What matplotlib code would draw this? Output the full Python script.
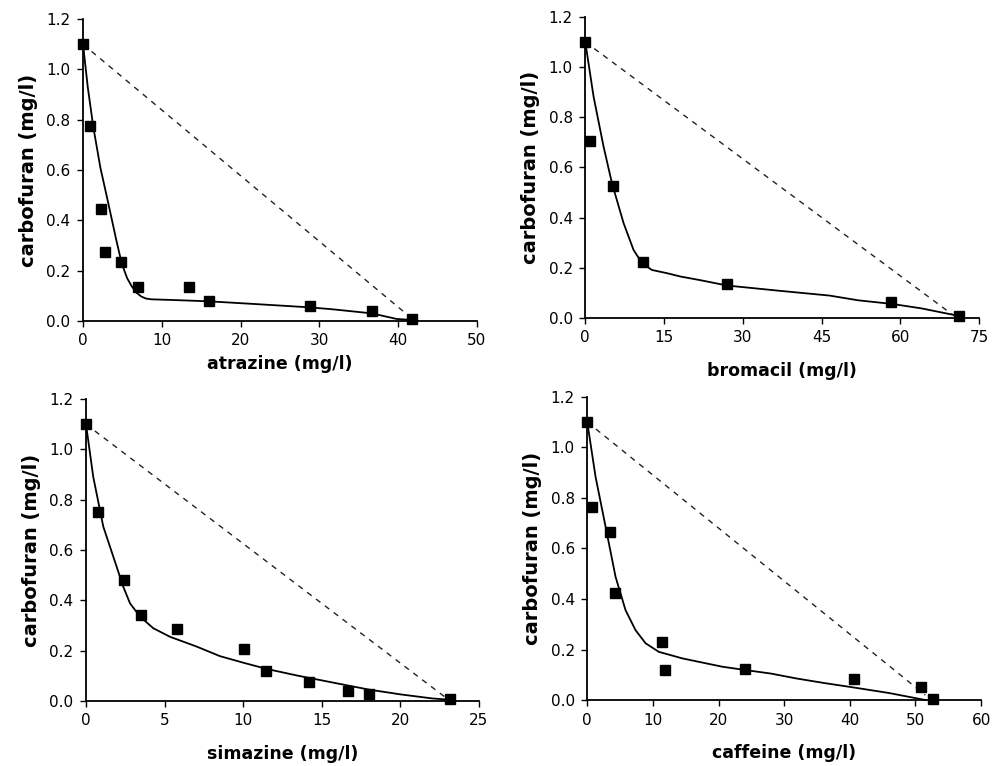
import matplotlib
matplotlib.use("Agg")
import matplotlib.pyplot as plt

# Measured points (x = competing compound, y = carbofuran), all in mg/l
atrazine_x = [0.0, 0.84, 2.28, 2.8, 4.8, 7.0, 13.5, 16.0, 28.8, 36.7, 41.8]
atrazine_y = [1.10, 0.775, 0.445, 0.273, 0.233, 0.136, 0.134, 0.078, 0.060, 0.041, 0.007]
atrazine_fit_x = [0.0, 0.6, 1.3, 2.2, 3.2, 4.2, 4.9, 5.6, 6.2, 6.8, 7.4, 8.0, 8.7,
                  11.7, 16.0, 22.0, 28.8, 31.8, 36.7, 39.8, 41.8]
atrazine_fit_y = [1.10, 0.93, 0.772, 0.61, 0.469, 0.325, 0.230, 0.170, 0.137, 0.112,
                  0.097, 0.089, 0.086, 0.083, 0.078, 0.067, 0.054, 0.046, 0.030, 0.008, 0.004]

bromacil_x = [0.0, 0.89, 5.26, 10.9, 27.0, 58.3, 71.1]
bromacil_y = [1.10, 0.707, 0.526, 0.221, 0.135, 0.062, 0.007]
bromacil_fit_x = [0.0, 1.58, 3.48, 5.08, 7.29, 9.19, 10.8, 12.7, 15.6, 18.1, 22.0,
                  27.0, 37.0, 46.5, 52.0, 58.3, 64.0, 69.9, 71.1]
bromacil_fit_y = [1.10, 0.882, 0.683, 0.537, 0.378, 0.271, 0.218, 0.191, 0.178, 0.165,
                  0.150, 0.129, 0.108, 0.089, 0.070, 0.056, 0.038, 0.013, 0.008]

simazine_x = [0.0, 0.74, 2.42, 3.48, 5.77, 10.07, 11.45, 14.2, 16.7, 18.0, 23.15]
simazine_y = [1.10, 0.753, 0.482, 0.341, 0.284, 0.205, 0.118, 0.075, 0.040, 0.026, 0.007]
simazine_fit_x = [0.0, 0.46, 1.10, 1.74, 2.37, 2.80, 3.44, 4.28, 5.34, 7.04, 8.52,
                  10.0, 11.5, 13.5, 15.7, 18.0, 20.0, 22.0, 23.2]
simazine_fit_y = [1.10, 0.891, 0.693, 0.573, 0.454, 0.388, 0.335, 0.289, 0.255, 0.216,
                  0.178, 0.152, 0.127, 0.100, 0.073, 0.045, 0.026, 0.010, 0.004]

caffeine_x = [0.0, 0.71, 3.4, 4.26, 11.4, 11.9, 24.1, 40.6, 50.9, 52.7]
caffeine_y = [1.10, 0.765, 0.664, 0.423, 0.230, 0.119, 0.122, 0.083, 0.052, 0.003]
caffeine_fit_x = [0.0, 1.26, 2.79, 4.31, 5.83, 7.35, 8.88, 10.9, 14.5, 20.6, 24.1,
                  28.0, 31.8, 36.0, 40.6, 46.0, 51.6]
caffeine_fit_y = [1.10, 0.884, 0.686, 0.488, 0.356, 0.277, 0.225, 0.191, 0.165, 0.132,
                  0.119, 0.105, 0.086, 0.068, 0.050, 0.028, 0.0]

# dashed reference lines (start, end)
atrazine_dash = ([0.0, 41.2], [1.10, 0.024])
bromacil_dash = ([0.0, 70.0], [1.10, 0.012])
simazine_dash = ([0.0, 23.0], [1.10, 0.008])
caffeine_dash = ([0.0, 51.5], [1.10, 0.02])

panels = [
    ("atrazine (mg/l)", atrazine_x, atrazine_y, atrazine_fit_x, atrazine_fit_y,
     atrazine_dash, [0, 10, 20, 30, 40, 50]),
    ("bromacil (mg/l)", bromacil_x, bromacil_y, bromacil_fit_x, bromacil_fit_y,
     bromacil_dash, [0, 15, 30, 45, 60, 75]),
    ("simazine (mg/l)", simazine_x, simazine_y, simazine_fit_x, simazine_fit_y,
     simazine_dash, [0, 5, 10, 15, 20, 25]),
    ("caffeine (mg/l)", caffeine_x, caffeine_y, caffeine_fit_x, caffeine_fit_y,
     caffeine_dash, [0, 10, 20, 30, 40, 50, 60]),
]

boxes = [
    [0.0837, 0.581, 0.397, 0.394],
    [0.590, 0.585, 0.397, 0.393],
    [0.0867, 0.085, 0.396, 0.394],
    [0.592, 0.086, 0.397, 0.396],
]
xlabel_pads = [5, 12, 12, 12]

plt.rcParams["font.family"] = "DejaVu Sans"

fig = plt.figure(figsize=(9.92, 7.66), dpi=100)

for box, pad, (xlabel, px, py, fx, fy, dash, xticks) in zip(boxes, xlabel_pads, panels):
    ax = fig.add_axes(box)

    # Dashed line from start point to end point
    ax.plot(dash[0], dash[1], color="#222222", linestyle=(0, (4, 4)), linewidth=1.0)
    # Fitted curve
    ax.plot(fx, fy, color="black", linewidth=1.3, clip_on=False,
            solid_joinstyle="round")
    # Measured data
    ax.plot(px, py, linestyle="none", marker="s", markersize=7,
            color="black", clip_on=False, zorder=5)

    ax.set_xlim(xticks[0], xticks[-1])
    ax.set_ylim(0, 1.2)
    ax.set_xticks(xticks)
    ax.set_yticks([0.0, 0.2, 0.4, 0.6, 0.8, 1.0, 1.2])
    ax.set_yticklabels(["0.0", "0.2", "0.4", "0.6", "0.8", "1.0", "1.2"])

    ax.spines["top"].set_visible(False)
    ax.spines["right"].set_visible(False)
    ax.spines["left"].set_linewidth(1.3)
    ax.spines["bottom"].set_linewidth(1.3)
    ax.tick_params(direction="out", length=4, width=1, labelsize=11, pad=5)

    ax.set_xlabel(xlabel, fontsize=12.5, fontweight="bold", labelpad=pad)
    ax.set_ylabel("carbofuran (mg/l)", fontsize=14, fontweight="bold", labelpad=6)

plt.savefig("out.png", dpi=100)
